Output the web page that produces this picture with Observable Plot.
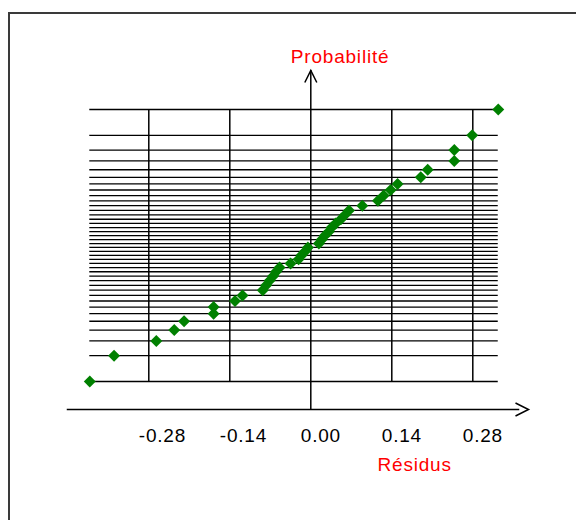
<!DOCTYPE html>
<html><head><meta charset="utf-8">
<script src="https://cdn.jsdelivr.net/npm/d3@7"></script>
<script src="https://cdn.jsdelivr.net/npm/@observablehq/plot@0.6"></script>
<style>
body{margin:0;background:#fff;overflow:hidden}
#wrap{position:relative;width:576px;height:520px;overflow:hidden;background:#fff}
#wrap svg{position:absolute;left:0;top:0}
#border{position:absolute;left:8px;top:12px;width:700px;height:700px;border:2px solid #3a3a3a;box-sizing:border-box;pointer-events:none}
</style></head><body><div id="wrap"><div id="border"></div></div>
<script>
// Sorted residuals
const residuals = [
  -0.382, -0.340, -0.267, -0.236, -0.219, -0.168, -0.168, -0.131, -0.118, -0.083,
  -0.077, -0.071, -0.065, -0.060, -0.054, -0.035, -0.021, -0.016, -0.010, -0.005,
   0.014,  0.019,  0.024,  0.031,  0.036,  0.043,  0.052,  0.059,  0.066,  0.089,
   0.116,  0.126,  0.138,  0.150,  0.190,  0.202,  0.248,  0.248,  0.279,  0.324
];
const xTicks = [-0.28, -0.14, 0, 0.14, 0.28];
const xTickLabels = ["-0.28", "-0.14", "0.00", "0.14", "0.28"];
const yTitle = "Probabilité";
const xTitle = "Résidus";

// inverse normal CDF (Acklam)
function probit(p) {
  const a = [-3.969683028665376e+01, 2.209460984245205e+02, -2.759285104469687e+02, 1.383577518672690e+02, -3.066479806614716e+01, 2.506628277459239e+00];
  const b = [-5.447609879822406e+01, 1.615858368580409e+02, -1.556989798598866e+02, 6.680131188771972e+01, -1.328068155288572e+01];
  const c = [-7.784894002430293e-03, -3.223964580411365e-01, -2.400758277161838e+00, -2.549732539343734e+00, 4.374664141464968e+00, 2.938163982698783e+00];
  const d = [7.784695709041462e-03, 3.224671290700398e-01, 2.445134137142996e+00, 3.754408661907416e+00];
  const plow = 0.02425;
  if (p < plow) {
    const q = Math.sqrt(-2 * Math.log(p));
    return (((((c[0]*q+c[1])*q+c[2])*q+c[3])*q+c[4])*q+c[5]) / ((((d[0]*q+d[1])*q+d[2])*q+d[3])*q+1);
  } else if (p <= 1 - plow) {
    const q = p - 0.5, r = q*q;
    return (((((a[0]*r+a[1])*r+a[2])*r+a[3])*r+a[4])*r+a[5])*q / (((((b[0]*r+b[1])*r+b[2])*r+b[3])*r+b[4])*r+1);
  } else {
    const q = Math.sqrt(-2 * Math.log(1 - p));
    return -(((((c[0]*q+c[1])*q+c[2])*q+c[3])*q+c[4])*q+c[5]) / ((((d[0]*q+d[1])*q+d[2])*q+d[3])*q+1);
  }
}

const n = residuals.length;
// Blom plotting positions
const data = residuals.map((r, i) => {
  const p = (i + 1 - 0.375) / (n + 0.25);
  return {r, p, z: probit(p)};
});
const [zMin, zMax] = d3.extent(data, d => d.z);
const [rMin, rMax] = d3.extent(data, d => d.r);

const caret = {draw(ctx) { ctx.moveTo(-6, 12); ctx.lineTo(0, 0); ctx.lineTo(6, 12); }};
const chevron = {draw(ctx) { ctx.moveTo(-3, -6.5); ctx.lineTo(10, 0); ctx.lineTo(-3, 6.5); }};

const red = "#ff0000";
const chart = Plot.plot({
  width: 576,
  height: 520,
  marginLeft: 67,
  marginRight: 58,
  marginTop: 70,
  marginBottom: 111,
  style: {fontFamily: "'Liberation Sans', Arial, sans-serif", fontSize: "19px", letterSpacing: "0.8px", background: "transparent", overflow: "visible"},
  x: {domain: [-0.28, 0.28], range: [148.3, 472.3], axis: null},
  y: {domain: [zMin, zMax], range: [381, 109], axis: null},
  marks: [
    Plot.ruleY(data, {y: "z", x1: rMin, x2: rMax, stroke: "#000", strokeWidth: 1.3}),
    Plot.ruleX(xTicks.filter(t => t !== 0), {x: d => d, y1: zMin, y2: zMax, stroke: "#000", strokeWidth: 1.5}),
    Plot.ruleX([0], {x: d => d, stroke: "#000", strokeWidth: 1.5}),
    Plot.frame({anchor: "bottom", stroke: "#000", strokeWidth: 1.5}),
    Plot.dot([0], {x: d => d, frameAnchor: "top", symbol: caret, stroke: "#000", fill: "none", strokeWidth: 1.5}),
    Plot.dot([0], {frameAnchor: "bottom-right", symbol: chevron, stroke: "#000", fill: "none", strokeWidth: 1.5}),
    Plot.text(xTicks, {x: d => d, text: (d, i) => xTickLabels[i], frameAnchor: "bottom", textAnchor: "start", lineAnchor: "bottom", dx: -10, dy: 32, fill: "#000"}),
    Plot.text([yTitle], {x: () => 0, text: d => d, frameAnchor: "top", textAnchor: "start", lineAnchor: "bottom", dx: -20, dy: -8, fill: red}),
    Plot.text([xTitle], {text: d => d, frameAnchor: "bottom-right", textAnchor: "start", lineAnchor: "bottom", dx: -141, dy: 61, fill: red}),
    Plot.dot(data, {x: "r", y: "z", symbol: "diamond2", r: 5.4, fill: "#008000", stroke: "none"})
  ]
});
document.getElementById("wrap").insertBefore(chart, document.getElementById("border"));
</script>
</body></html>
